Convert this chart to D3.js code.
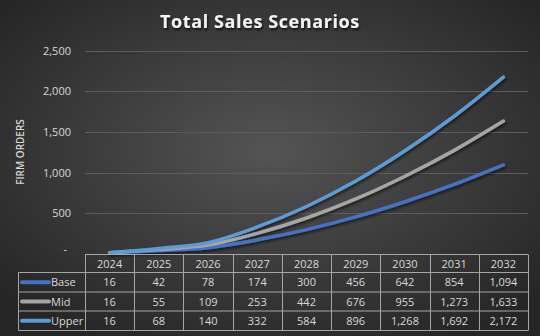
<!DOCTYPE html>
<html><head><meta charset="utf-8">
<script src="https://cdn.jsdelivr.net/npm/d3@7"></script>
<style>body{margin:0;background:#333}svg{display:block}</style>
</head><body>
<svg id="c" width="540" height="336"></svg>
<script>
const years = ["2024","2025","2026","2027","2028","2029","2030","2031","2032"];
const baseVals = [16,42,78,174,300,456,642,854,1094];
const midVals = [16,55,109,253,442,676,955,1273,1633];
const upperVals = [16,68,140,332,584,896,1268,1692,2172];
const seriesNames = ["Base","Mid","Upper"];
const seriesColors = ["#4472C4","#A5A5A5","#5B9BD5"];
const yTicks = [0,500,1000,1500,2000,2500];
const title = "Total Sales Scenarios";
const yTitle = "FIRM ORDERS";

const series = [baseVals, midVals, upperVals].map((v,i)=>({name:seriesNames[i], color:seriesColors[i], values:v}));

const svg = d3.select("#c");
const W=540,H=336;
const defs = svg.append("defs");
const rg = defs.append("radialGradient").attr("id","bg").attr("cx","50%").attr("cy","45%").attr("r","65%");
rg.append("stop").attr("offset","0%").attr("stop-color","#545454");
rg.append("stop").attr("offset","100%").attr("stop-color","#262626");
const f = defs.append("filter").attr("id","sh").attr("x","-10%").attr("y","-20%").attr("width","120%").attr("height","150%");
f.append("feDropShadow").attr("dx",1).attr("dy",2).attr("stdDeviation",1.5).attr("flood-color","#000").attr("flood-opacity",0.6);
const ft = defs.append("filter").attr("id","tsh").attr("x","-10%").attr("y","-30%").attr("width","120%").attr("height","160%");
ft.append("feDropShadow").attr("dx",1).attr("dy",2).attr("stdDeviation",1).attr("flood-color","#000").attr("flood-opacity",0.7);

svg.append("rect").attr("width",W).attr("height",H).attr("fill","url(#bg)");

const x0=85, x1=528, yTop=50.5, yBot=254;
const x = d3.scaleBand().domain(years).range([x0,x1]);
const y = d3.scaleLinear().domain([0,2500]).range([yBot,yTop]);

// title
svg.append("text").attr("x",260).attr("y",28).attr("text-anchor","middle")
  .attr("font-family","'Open Sans', 'Liberation Sans', sans-serif").attr("font-weight","bold")
  .attr("font-size",18).attr("letter-spacing",0.6).attr("fill","#f2f2f2").attr("filter","url(#tsh)").text(title);

// gridlines
svg.append("g").selectAll("line").data(yTicks.filter(d=>d>0)).join("line")
  .attr("x1",x0).attr("x2",x1).attr("y1",d=>Math.round(y(d))+0.5).attr("y2",d=>Math.round(y(d))+0.5)
  .attr("stroke","#5c5c5c").attr("stroke-width",1);

// y axis labels via d3 axis
const yAxis = d3.axisLeft(y).tickValues(yTicks).tickSize(0).tickPadding(0)
  .tickFormat(d=> d===0 ? "-" : d3.format(",")(d));
const ga = svg.append("g").attr("transform","translate(71,0)").call(yAxis);
ga.select(".domain").remove();
ga.selectAll("text").attr("fill","#d9d9d9").attr("font-size",11)
  .attr("font-family","'Open Sans', 'Liberation Sans', sans-serif");
ga.selectAll(".tick").filter(d=>d===0).select("text").attr("dy","-0.1em").attr("dx",-4);

svg.append("text").attr("transform","translate(24,152) rotate(-90)").attr("text-anchor","middle")
  .attr("font-family","'Open Sans', 'Liberation Sans', sans-serif").attr("font-weight","600")
  .attr("font-size",10).attr("fill","#d9d9d9").text(yTitle);

// lines
const line = d3.line().x((d,i)=>x(years[i])+x.bandwidth()/2).y(d=>y(d)).curve(d3.curveCatmullRom.alpha(0.5));
svg.append("g").attr("filter","url(#sh)").selectAll("path").data(series).join("path")
  .attr("d",d=>line(d.values)).attr("fill","none").attr("stroke",d=>d.color)
  .attr("stroke-width",3.5).attr("stroke-linecap","round").attr("stroke-linejoin","round");

// table
const rowsY = [254.5, 272.5, 292, 311, 330.5];
const tx0 = 18.5;
const tg = svg.append("g");
const border = "#a6a6a6";
tg.append("line").attr("x1",x0).attr("x2",x1).attr("y1",rowsY[0]).attr("y2",rowsY[0]).attr("stroke",border);
for (let r=1;r<rowsY.length;r++) tg.append("line").attr("x1",tx0).attr("x2",x1).attr("y1",rowsY[r]).attr("y2",rowsY[r]).attr("stroke",border);
const vx = years.map(d=>x(d)).concat([x1]);
vx.forEach(v=>tg.append("line").attr("x1",Math.round(v)+0.5).attr("x2",Math.round(v)+0.5).attr("y1",rowsY[0]).attr("y2",rowsY[4]).attr("stroke",border));
tg.append("line").attr("x1",tx0).attr("x2",tx0).attr("y1",rowsY[1]).attr("y2",rowsY[4]).attr("stroke",border);

const tfont = "'Open Sans', 'Liberation Sans', sans-serif";
tg.selectAll("text.h").data(years).join("text").attr("class","h")
  .attr("x",d=>x(d)+x.bandwidth()/2).attr("y",(rowsY[0]+rowsY[1])/2+4)
  .attr("text-anchor","middle").attr("font-size",11).attr("font-family",tfont).attr("fill","#d9d9d9").text(d=>d);
series.forEach((s,r)=>{
  const cy=(rowsY[r+1]+rowsY[r+2])/2;
  tg.append("line").attr("x1",22).attr("x2",49).attr("y1",cy).attr("y2",cy).attr("stroke",s.color).attr("stroke-width",4).attr("stroke-linecap","round");
  tg.append("text").attr("x",51).attr("y",cy+4).attr("font-size",11).attr("font-family",tfont).attr("fill","#d9d9d9").text(s.name);
  tg.selectAll(null).data(s.values).join("text")
    .attr("x",(d,i)=>x(years[i])+x.bandwidth()/2).attr("y",cy+4)
    .attr("text-anchor","middle").attr("font-size",11).attr("font-family",tfont).attr("fill","#d9d9d9").text(d=>d3.format(",")(d));
});
</script>
</body></html>
